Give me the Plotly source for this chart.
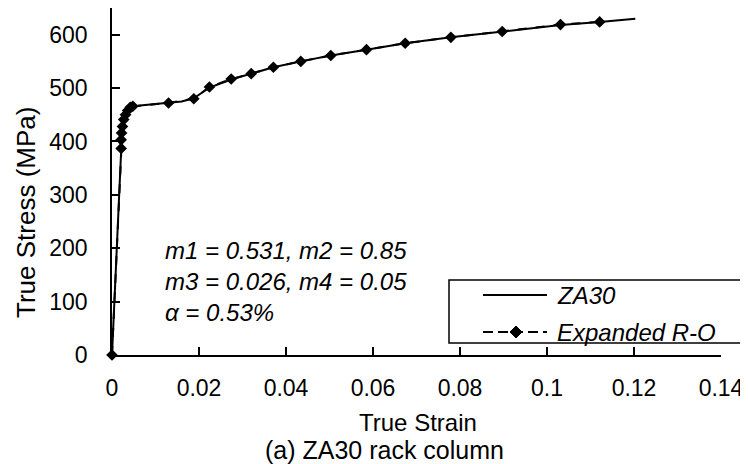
import plotly.graph_objects as go

# ZA30 experimental curve (true strain, true stress MPa)
za30_strain = [0, 0.0005, 0.0010, 0.0015, 0.0019, 0.0022, 0.0026, 0.0031, 0.0038, 0.0048,
               0.0070, 0.0100, 0.0130, 0.0160, 0.0188, 0.0224, 0.0274, 0.0320, 0.0371,
               0.0434, 0.0503, 0.0585, 0.0674, 0.0779, 0.0897, 0.1031, 0.1121, 0.1203]
za30_stress = [0, 95, 190, 285, 360, 400, 430, 448, 459, 465,
               468, 470, 472, 475, 481, 501, 516, 527, 539,
               550, 561, 572, 584, 595, 606, 618, 624, 630]

# Expanded Ramberg-Osgood points
ro_strain = [0, 0.0021, 0.0021, 0.0022, 0.0024, 0.0027, 0.0031, 0.0036, 0.0042, 0.0048,
             0.0130, 0.0188, 0.0224, 0.0274, 0.0320, 0.0371, 0.0434, 0.0503, 0.0585,
             0.0674, 0.0779, 0.0897, 0.1031, 0.1121]
ro_stress = [0, 387, 403, 416, 428, 441, 450, 458, 464, 466,
             472, 480, 502, 517, 527, 539, 550, 561, 572,
             584, 595, 606, 619, 624]

x_ticks = [0, 0.02, 0.04, 0.06, 0.08, 0.1, 0.12, 0.14]
x_ticklabels = ["0", "0.02", "0.04", "0.06", "0.08", "0.1", "0.12", "0.14"]
y_ticks = [0, 100, 200, 300, 400, 500, 600]

FONT = "Liberation Sans, Arial, sans-serif"

fig = go.Figure()
fig.add_trace(go.Scatter(x=za30_strain, y=za30_stress, mode="lines", name="ZA30",
                         line=dict(color="black", width=2), showlegend=False))
fig.add_trace(go.Scatter(x=ro_strain, y=ro_stress, mode="lines+markers", name="Expanded R-O",
                         line=dict(color="black", width=2, dash="dash"),
                         marker=dict(symbol="diamond", size=9, color="black"),
                         cliponaxis=False, showlegend=False))

# The page body adds an 8px margin, so the figure is built 8px smaller and
# every reference-pixel position is shifted by OFF.
OFF = 8
W, H = 748 - OFF, 464 - OFF
PL, PR, PT, PB = 112, 721, 8, 355          # plot area in page pixels
L, R, T, B = PL - OFF, 748 - PR, PT - OFF, 464 - PB
pw, ph = PR - PL, PB - PT
def px(xp): return (xp - PL) / pw
def py(yp): return (PB - yp) / ph

shapes = []
# legend box
shapes.append(dict(type="rect", xref="paper", yref="paper", x0=px(449), x1=px(770),
                   y0=py(343), y1=py(280), line=dict(color="black", width=1.5)))
# legend samples
shapes.append(dict(type="line", xref="paper", yref="paper", x0=px(483), x1=px(547),
                   y0=py(295), y1=py(295), line=dict(color="black", width=2)))
shapes.append(dict(type="line", xref="paper", yref="paper", x0=px(483), x1=px(547),
                   y0=py(332), y1=py(332), line=dict(color="black", width=2, dash="10px,5px")))
cx, cy = 516, 332
d = 6
shapes.append(dict(type="path", xref="paper", yref="paper",
                   path=f"M{px(cx-d)},{py(cy)} L{px(cx)},{py(cy-d)} L{px(cx+d)},{py(cy)} L{px(cx)},{py(cy+d)} Z",
                   fillcolor="black", line=dict(color="black", width=1)))

annotations = [
    dict(xref="paper", yref="paper", x=px(555), y=py(295), text="<i>ZA30</i>",
         showarrow=False, xanchor="left", yanchor="middle", font=dict(size=24, color="black", family=FONT)),
    dict(xref="paper", yref="paper", x=px(555), y=py(332), text="<i>Expanded R-O</i>",
         showarrow=False, xanchor="left", yanchor="middle", font=dict(size=24, color="black", family=FONT)),
    dict(xref="paper", yref="paper", x=px(163), y=py(281),
         text="<i>m1 = 0.531, m2 = 0.85<br>m3 = 0.026, m4 = 0.05<br>α = 0.53%</i>",
         showarrow=False, xanchor="left", yanchor="middle", align="left",
         font=dict(size=24, color="black", family=FONT)),
    dict(xref="paper", yref="paper", x=px(418), y=py(422), text="True Strain",
         showarrow=False, xanchor="center", yanchor="middle", font=dict(size=24, color="black", family=FONT)),
    dict(xref="paper", yref="paper", x=px(384), y=py(450), text="(a) ZA30 rack column",
         showarrow=False, xanchor="center", yanchor="middle", font=dict(size=25, color="black", family=FONT)),
    dict(xref="paper", yref="paper", x=px(26), y=py(213), text="True Stress (MPa)", textangle=-90,
         showarrow=False, xanchor="center", yanchor="middle", font=dict(size=26, color="black", family=FONT)),
]

fig.update_layout(
    width=W, height=H,
    margin=dict(l=L, r=R, t=T, b=B, pad=0, autoexpand=False),
    paper_bgcolor="white", plot_bgcolor="white",
    font=dict(family=FONT, size=23, color="black"),
    shapes=shapes, annotations=annotations,
    showlegend=False,
)
fig.update_xaxes(range=[0, 0.14], tickvals=x_ticks, ticktext=x_ticklabels,
                 showline=True, linecolor="black", linewidth=1.5, showgrid=False, zeroline=False,
                 ticks="inside", ticklen=8, tickcolor="black", tickwidth=1.5,
                 ticklabelstandoff=12, tickfont=dict(size=23, color="black"))
fig.update_yaxes(range=[0, 650], tickvals=y_ticks,
                 showline=True, linecolor="black", linewidth=1.5, showgrid=False, zeroline=False,
                 ticks="inside", ticklen=8, tickcolor="black", tickwidth=1.5,
                 ticklabelstandoff=18, tickfont=dict(size=23, color="black"))

fig.write_html("out.html")
